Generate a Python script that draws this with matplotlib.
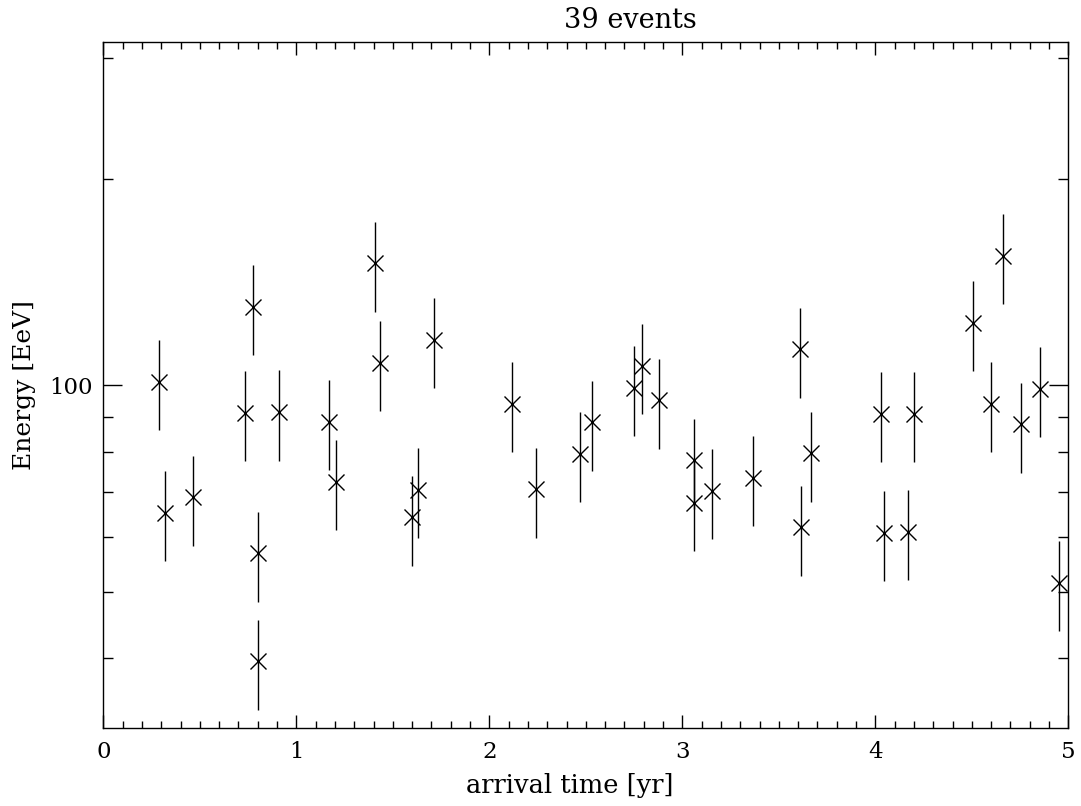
import numpy as np
import matplotlib
matplotlib.use('Agg')
import matplotlib.pyplot as plt
from matplotlib.ticker import LogLocator, NullFormatter, FixedLocator, MultipleLocator

# arrival time [yr] and energy [EeV]
t_yr = [0.287, 0.318, 0.465, 0.733, 0.774, 0.802, 0.802, 0.909,
        1.169, 1.206, 1.409, 1.434, 1.715, 1.598, 1.629,
        2.116, 2.242, 2.472, 2.534, 2.750, 2.791, 2.879,
        3.061, 3.059, 3.154, 3.368, 3.608, 3.615, 3.667,
        4.031, 4.047, 4.168, 4.202, 4.505, 4.663, 4.598, 4.753, 4.855, 4.953]
energy = [101.1, 65.2, 68.7, 91.2, 130.1, 56.9, 39.6, 91.4,
          88.4, 72.4, 150.6, 107.8, 116.6, 64.2, 70.4,
          94.0, 70.5, 79.5, 88.3, 99.1, 106.7, 95.1,
          77.7, 67.4, 70.2, 73.3, 112.9, 62.1, 79.6,
          90.9, 60.9, 61.2, 90.9, 123.3, 154.4, 94.0, 87.7, 98.9, 51.5]
rel_err = 0.15

t_yr = np.array(t_yr)
energy = np.array(energy)
err = rel_err*energy

plt.rcParams['font.family'] = ['DejaVu Serif']

fig = plt.figure(figsize=(10.81, 8.06), dpi=100)
ax = fig.add_axes([0.0956, 0.0964, 0.8927, 0.8511])

ax.errorbar(t_yr, energy, yerr=err, fmt='none', ecolor='black', elinewidth=1.0, capsize=0)
ax.plot(t_yr, energy, 'x', color='black', markersize=11, markeredgewidth=1.0)

ax.set_xlim(0, 5)
ax.set_yscale('log')
ax.set_ylim(100/np.sqrt(10), 100*np.sqrt(10))

ax.xaxis.set_major_locator(MultipleLocator(1))
ax.xaxis.set_minor_locator(MultipleLocator(0.1))
ax.yaxis.set_major_locator(FixedLocator([100]))
ax.yaxis.set_minor_locator(LogLocator(base=10, subs=np.arange(2, 10)))
ax.yaxis.set_minor_formatter(NullFormatter())
ax.set_yticklabels(['100'])

ax.tick_params(axis='both', which='both', direction='in', top=True, right=True,
               width=1.0, labelsize=16.5, colors='black')
ax.tick_params(axis='x', which='major', length=9.5, pad=9)
ax.tick_params(axis='x', which='minor', length=5)
ax.tick_params(axis='y', which='major', length=13.5, pad=8)
ax.tick_params(axis='y', which='minor', length=7.2)
for s in ax.spines.values():
    s.set_linewidth(1.0)

fig.text(630/1081, 1 - 20/806, '39 events', ha='center', va='center', fontsize=19.5)
fig.text(570/1081, 1 - 785/806, 'arrival time [yr]', ha='center', va='center', fontsize=18.5)
fig.text(25/1081, 1 - 385/806, 'Energy [EeV]', ha='center', va='center', rotation=90, fontsize=18)

fig.savefig('out.png', dpi=100)
